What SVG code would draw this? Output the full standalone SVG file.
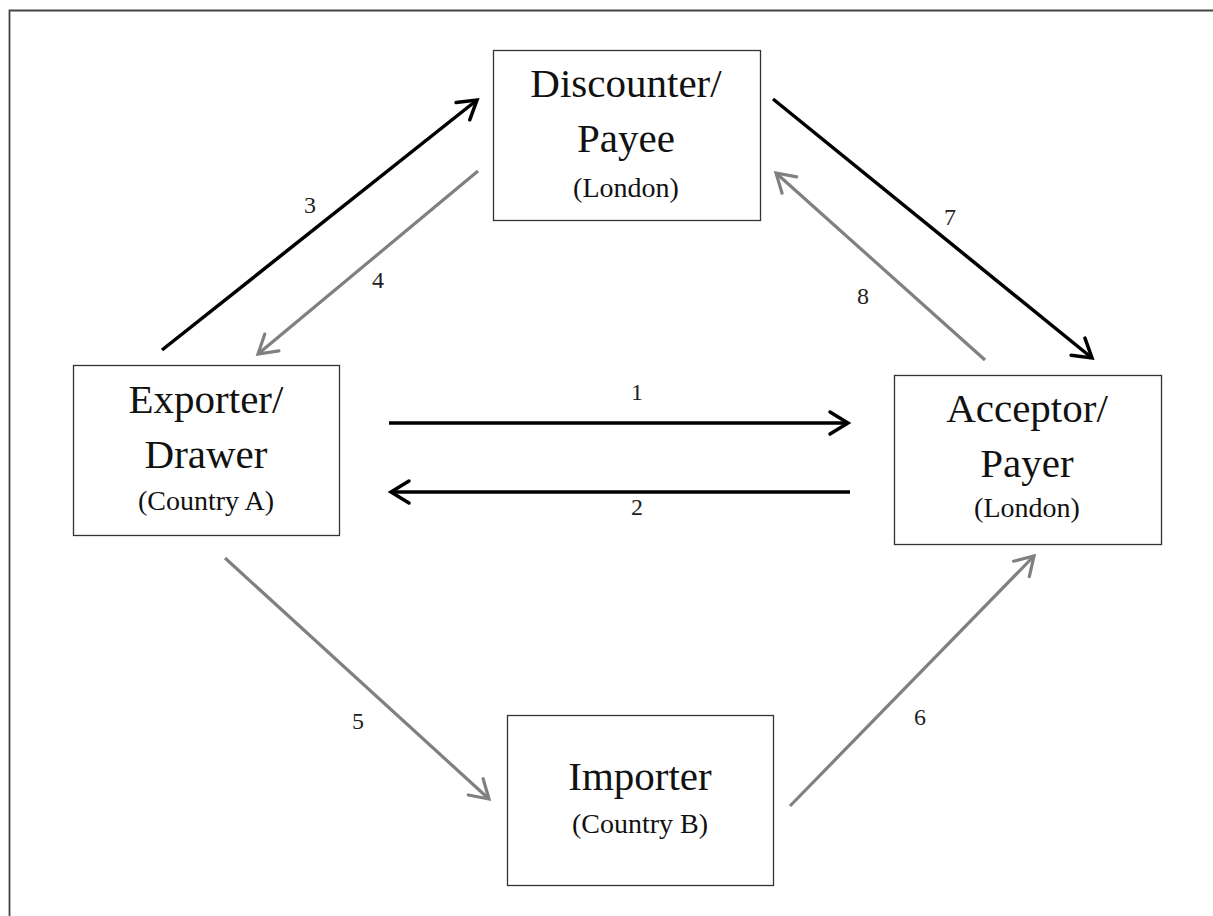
<svg xmlns="http://www.w3.org/2000/svg" width="1213" height="916" viewBox="0 0 1213 916">
<defs>
<style>
.frame{stroke:#444;stroke-width:1.8;fill:none}
.box{fill:#fff;stroke:#333;stroke-width:1.3}
.t{font-family:"Liberation Serif","Times New Roman",serif;fill:#111;text-anchor:middle}
.big{font-size:41px}
.sub{font-size:28px}
.num{font-family:"Liberation Serif","Times New Roman",serif;font-size:24px;fill:#222;text-anchor:middle}
.blk{stroke:#000;stroke-width:3.5;fill:none;marker-end:url(#hb)}
.gry{stroke:#808080;stroke-width:3.2;fill:none;marker-end:url(#hg)}
</style>
<marker id="hb" markerUnits="userSpaceOnUse" viewBox="-24 -16 28 32" markerWidth="28" markerHeight="32" refX="0" refY="0" orient="auto">
<path d="M-18,-11 L0,0 L-18,11" fill="none" stroke="#000" stroke-width="3.5" stroke-linecap="round" stroke-linejoin="miter"/>
</marker>
<marker id="hg" markerUnits="userSpaceOnUse" viewBox="-24 -16 28 32" markerWidth="28" markerHeight="32" refX="0" refY="0" orient="auto">
<path d="M-18,-11 L0,0 L-18,11" fill="none" stroke="#808080" stroke-width="3.2" stroke-linecap="round" stroke-linejoin="miter"/>
</marker>
</defs>
<rect width="1213" height="916" fill="#fff"/>
<path class="frame" d="M9.5,916 L9.5,10.5 L1213,10.5"/>
<g id="connectors">
<line class="blk" x1="389" y1="423" x2="848" y2="423"/>
<line class="blk" x1="850" y1="492" x2="391" y2="492"/>
<line class="blk" x1="162" y1="350" x2="477" y2="100"/>
<line class="gry" x1="478" y1="171" x2="258" y2="354"/>
<line class="blk" x1="773" y1="99" x2="1092" y2="358"/>
<line class="gry" x1="985" y1="360" x2="776" y2="173"/>
<line class="gry" x1="225" y1="558" x2="489" y2="799"/>
<line class="gry" x1="790" y1="806" x2="1034" y2="556"/>
<text class="num" x="637" y="400">1</text>
<text class="num" x="637" y="515">2</text>
<text class="num" x="310" y="213">3</text>
<text class="num" x="378" y="288">4</text>
<text class="num" x="358" y="729">5</text>
<text class="num" x="920" y="725">6</text>
<text class="num" x="950" y="225">7</text>
<text class="num" x="863" y="304">8</text>
</g>
<g id="discounter">
<rect class="box" x="493.5" y="50.5" width="267" height="170"/>
<text class="t big" x="626" y="97">Discounter/</text>
<text class="t big" x="626" y="152">Payee</text>
<text class="t sub" x="626" y="197">(London)</text>
</g>
<g id="exporter">
<rect class="box" x="73.5" y="365.5" width="266" height="170"/>
<text class="t big" x="206" y="413">Exporter/</text>
<text class="t big" x="206" y="468">Drawer</text>
<text class="t sub" x="206" y="510">(Country A)</text>
</g>
<g id="acceptor">
<rect class="box" x="894.5" y="375.5" width="267" height="169"/>
<text class="t big" x="1027" y="422">Acceptor/</text>
<text class="t big" x="1027" y="477">Payer</text>
<text class="t sub" x="1027" y="517">(London)</text>
</g>
<g id="importer">
<rect class="box" x="507.5" y="715.5" width="266" height="170"/>
<text class="t big" x="640" y="790">Importer</text>
<text class="t sub" x="640" y="833">(Country B)</text>
</g>
</svg>
